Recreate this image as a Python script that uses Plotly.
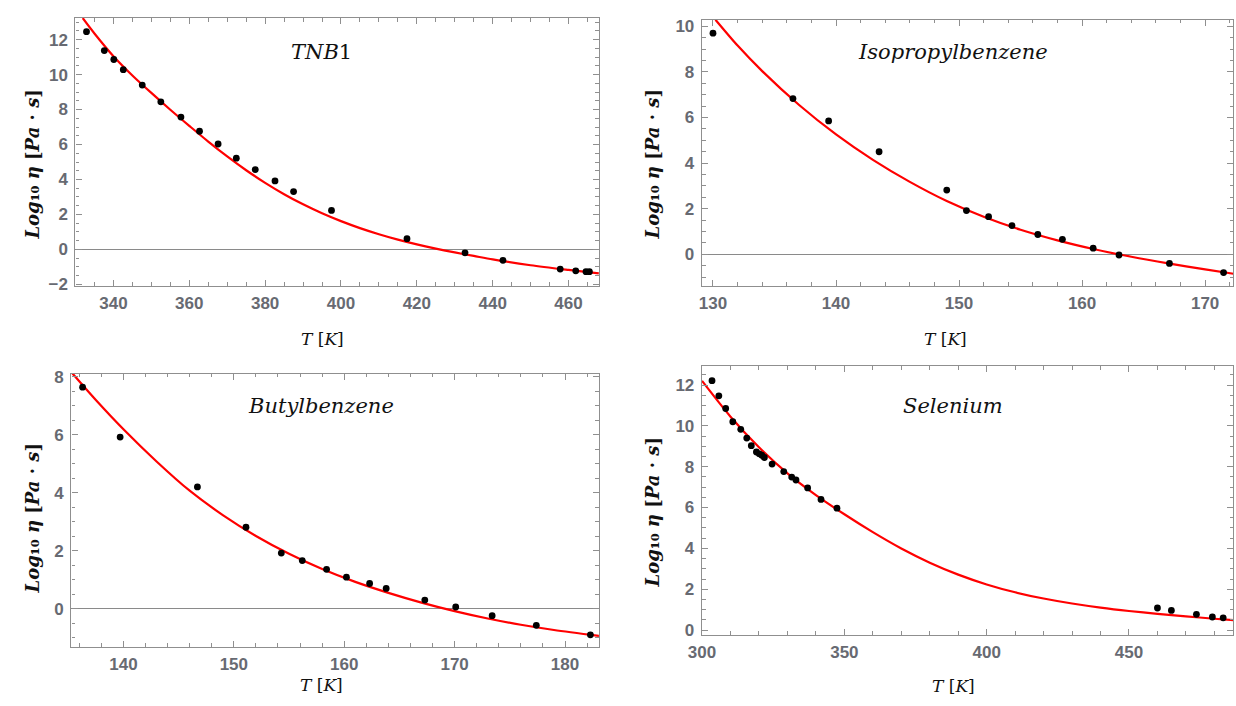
import plotly.graph_objects as go

W, H = 1236, 706

# ---------------- data ----------------
# TNB1
tnb_T = [332.9, 337.6, 340.1, 342.6, 347.6, 352.5, 357.8, 362.7, 367.6, 372.4, 377.4,
         382.6, 387.5, 397.5, 417.4, 432.7, 442.7, 457.8, 461.9, 464.6, 465.5]
tnb_y = [12.45, 11.37, 10.86, 10.28, 9.40, 8.44, 7.57, 6.76, 6.03, 5.22, 4.57,
         3.92, 3.31, 2.23, 0.62, -0.19, -0.62, -1.12, -1.22, -1.27, -1.27]
tnb_fit_T = [331.9, 335, 340, 345, 350, 355, 360, 365, 370, 375, 380, 385, 390, 395,
             400, 405, 410, 415, 420, 425, 430, 435, 440, 450, 460, 468]
tnb_fit_y = [13.23, 12.35, 11.05, 9.95, 8.95, 7.99, 7.07, 6.17, 5.32, 4.53, 3.81, 3.16,
             2.58, 2.07, 1.62, 1.22, 0.87, 0.56, 0.29, 0.05, -0.17, -0.37, -0.57,
             -0.90, -1.17, -1.37]

# Isopropylbenzene
iso_T = [130.0, 136.5, 139.4, 143.5, 149.0, 150.6, 152.4, 154.3, 156.4, 158.4, 160.9,
         163.0, 167.1, 171.5]
iso_y = [9.70, 6.83, 5.85, 4.50, 2.82, 1.92, 1.65, 1.26, 0.87, 0.66, 0.27,
         -0.03, -0.40, -0.80]
iso_fit_T = [130.2, 132, 134, 137, 140, 143, 146, 149, 152, 155, 158, 161, 164, 167,
             170, 172.3]
iso_fit_y = [10.29, 9.156, 8.036, 6.551, 5.261, 4.145, 3.179, 2.339, 1.649, 1.079,
             0.614, 0.224, -0.106, -0.397, -0.661, -0.85]

# Butylbenzene
but_T = [136.3, 139.7, 146.7, 151.1, 154.3, 156.2, 158.4, 160.2, 162.3, 163.8, 167.3,
         170.1, 173.4, 177.4, 182.3]
but_y = [7.64, 5.92, 4.20, 2.81, 1.92, 1.66, 1.36, 1.09, 0.87, 0.70, 0.30,
         0.06, -0.24, -0.57, -0.90]
but_fit_T = [135.3, 137.5, 140, 143, 146, 149, 152, 155, 158, 161, 164, 167, 170,
             173, 176, 179, 183.1]
but_fit_y = [8.15, 7.20, 6.19, 5.08, 4.07, 3.23, 2.51, 1.895, 1.37, 0.926, 0.548,
             0.212, -0.082, -0.337, -0.553, -0.733, -0.938]

# Selenium
se_T = [303.5, 305.9, 308.3, 310.8, 313.6, 315.7, 317.3, 319.1, 320.1, 321.0, 321.9,
        324.6, 328.7, 331.5, 333.0, 337.1, 341.8, 347.4, 460.0, 464.9, 473.7, 479.3, 483.1]
se_y = [12.21, 11.47, 10.85, 10.20, 9.83, 9.40, 9.03, 8.72, 8.63, 8.56, 8.45,
        8.13, 7.76, 7.49, 7.35, 6.96, 6.40, 5.97, 1.08, 0.96, 0.77, 0.64, 0.60]
se_fit_T = [300, 310, 320, 330, 340, 350, 360, 370, 380, 390, 400, 410, 420, 430,
            440, 450, 460, 470, 480, 486.7]
se_fit_y = [12.2, 10.45, 8.95, 7.675, 6.61, 5.67, 4.795, 3.995, 3.30, 2.715, 2.235,
            1.85, 1.545, 1.30, 1.10, 0.935, 0.795, 0.67, 0.555, 0.483]

titles = ["<i>TNB</i>1", "<i>Isopropylbenzene</i>", "<i>Butylbenzene</i>", "<i>Selenium</i>"]

# ---------------- layout geometry (pixels) ----------------
frames = [  # left, right, top, bottom
    (62.2, 591.6, 12.3, 285.7),
    (695.8, 1233.4, 14.0, 285.7),
    (58.0, 591.6, 375.0, 654.0),
    (695.8, 1233.4, 367.3, 641.7),
]
xranges = [[330, 468], [129.1, 172.3], [135.28, 183.07], [299.95, 486.7]]
yranges = [[-2.09, 13.23], [-1.39, 10.29], [-1.32, 8.11], [-0.24, 12.93]]
xdt = [(20, 5), (10, 2), (10, 2), (50, 10)]
zerol = [True, True, True, False]

series = [
    (tnb_T, tnb_y, tnb_fit_T, tnb_fit_y),
    (iso_T, iso_y, iso_fit_T, iso_fit_y),
    (but_T, but_y, but_fit_T, but_fit_y),
    (se_T, se_y, se_fit_T, se_fit_y),
]

FRAME = "#8f8f8f"
TICKFONT = dict(family="Liberation Sans", size=17, color="#676a72", weight="bold")

fig = go.Figure()
layout = dict(width=W, height=H, margin=dict(l=0, r=0, t=0, b=0),
              paper_bgcolor="white", plot_bgcolor="white", showlegend=False)
annotations = []

for i in range(4):
    sfx = "" if i == 0 else str(i + 1)
    xa, ya = "x" + sfx, "y" + sfx
    T, y, fT, fy = series[i]
    fig.add_trace(go.Scatter(x=fT, y=fy, mode="lines", xaxis=xa, yaxis=ya,
                             line=dict(color="#ff0000", width=2.2, shape="spline", smoothing=0.8),
                             hoverinfo="skip"))
    fig.add_trace(go.Scatter(x=T, y=y, mode="markers", xaxis=xa, yaxis=ya,
                             marker=dict(color="black", size=6.8, line=dict(width=0))))
    l, r, t, b = frames[i]
    common = dict(showline=True, linecolor=FRAME, linewidth=1.4, mirror="allticks",
                  ticks="inside", ticklen=6, tickwidth=1, tickcolor=FRAME,
                  showgrid=False, tickfont=TICKFONT)
    layout["xaxis" + sfx] = dict(
        domain=[l / W, r / W], range=xranges[i], anchor=ya, dtick=xdt[i][0], tick0=0,
        zeroline=False, ticklabelstandoff=1,
        minor=dict(dtick=xdt[i][1], ticks="inside", ticklen=3.5, tickcolor=FRAME, showgrid=False),
        **common)
    layout["yaxis" + sfx] = dict(
        domain=[1 - b / H, 1 - t / H], range=yranges[i], anchor=xa, dtick=2, tick0=0,
        zeroline=zerol[i], zerolinecolor="#8a8a8a", zerolinewidth=1.2, ticklabelstandoff=3,
        minor=dict(dtick=0.5, ticks="inside", ticklen=3.5, tickcolor=FRAME, showgrid=False),
        **common)

# Panel titles
title_pos = [(311, 47), (950, 47), (311, 408), (950, 408)]
for (px, py), txt in zip(title_pos, titles):
    annotations.append(dict(x=px / W, y=1 - py / H, xref="paper", yref="paper",
                            text=txt, showarrow=False, xanchor="center", yanchor="middle",
                            font=dict(family="DejaVu Serif", size=21, color="#111")))

# Axis titles
xt_pos = [(312, 340), (942, 340), (311, 693), (950, 694)]
for px, py in xt_pos:
    annotations.append(dict(x=px / W, y=1 - py / H, xref="paper", yref="paper",
                            text="<i>T</i> [<i>K</i>]", showarrow=False,
                            xanchor="center", yanchor="middle", borderpad=0,
                            font=dict(family="DejaVu Serif", size=17, color="#111")))
yt_pos = [(19, 162), (646, 162), (19, 523), (646, 517)]
ytxt = "<b><i>Log</i>₁₀ <i>η</i> [<i>Pa</i> · <i>s</i>]</b>"
for px, py in yt_pos:
    annotations.append(dict(x=px / W, y=1 - py / H, xref="paper", yref="paper",
                            text=ytxt, showarrow=False, textangle=-90,
                            xanchor="center", yanchor="middle",
                            font=dict(family="DejaVu Serif", size=18, color="#111")))

layout["annotations"] = annotations
fig.update_layout(**layout)
fig.write_html("out.html")
